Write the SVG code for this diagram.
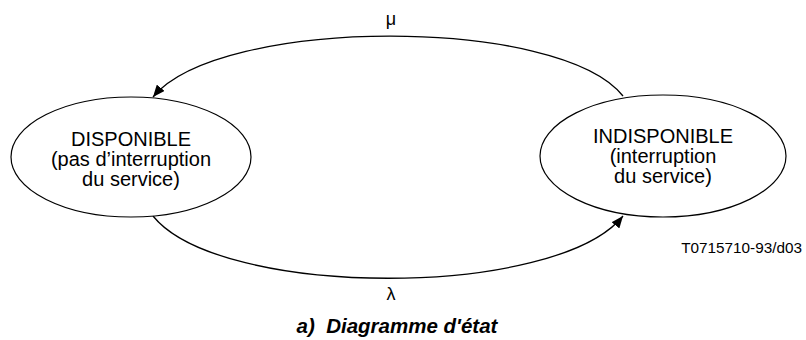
<svg xmlns="http://www.w3.org/2000/svg" width="806" height="340" viewBox="0 0 806 340">
<style>
.n{fill:#fff;stroke:#000;stroke-width:1.2}
.t{font-family:"Liberation Sans",Arial,sans-serif;font-size:20px;text-anchor:middle;fill:#000}
.e{fill:none;stroke:#000;stroke-width:1.3}
.l{font-family:"Liberation Sans",Arial,sans-serif;font-size:18px;text-anchor:middle;fill:#000}
</style>
<defs>
<marker id="ah" viewBox="0 0 12 10" refX="12" refY="5" markerWidth="12" markerHeight="10" markerUnits="userSpaceOnUse" orient="auto">
<path d="M0 0 L12 5 L0 10 Z" fill="#000"/>
</marker>
</defs>
<rect width="806" height="340" fill="#fff"/>
<g id="connectors">
<path class="e" d="M623 96 C560 16, 220 16, 153 97" marker-end="url(#ah)"/>
<path class="e" d="M153 216 C220 299, 556 299, 623 216" marker-end="url(#ah)"/>
<text class="l" x="391" y="25">μ</text>
<text class="l" x="391" y="300">λ</text>
</g>
<g id="disponible">
<ellipse class="n" cx="131" cy="157" rx="120" ry="60"/>
<text class="t" x="131" y="146">DISPONIBLE</text>
<text class="t" x="131" y="166">(pas d’interruption</text>
<text class="t" x="131" y="186">du service)</text>
</g>
<g id="indisponible">
<ellipse class="n" cx="663" cy="156" rx="123" ry="61"/>
<text class="t" x="663" y="143">INDISPONIBLE</text>
<text class="t" x="663" y="163">(interruption</text>
<text class="t" x="663" y="183">du service)</text>
</g>
<text x="802" y="253" font-family="'Liberation Sans',Arial,sans-serif" font-size="15.3" text-anchor="end">T0715710-93/d03</text>
<text x="397" y="333" font-family="'Liberation Sans',Arial,sans-serif" font-size="20.5" font-weight="bold" font-style="italic" text-anchor="middle" xml:space="preserve">a)  Diagramme d'état</text>
</svg>
